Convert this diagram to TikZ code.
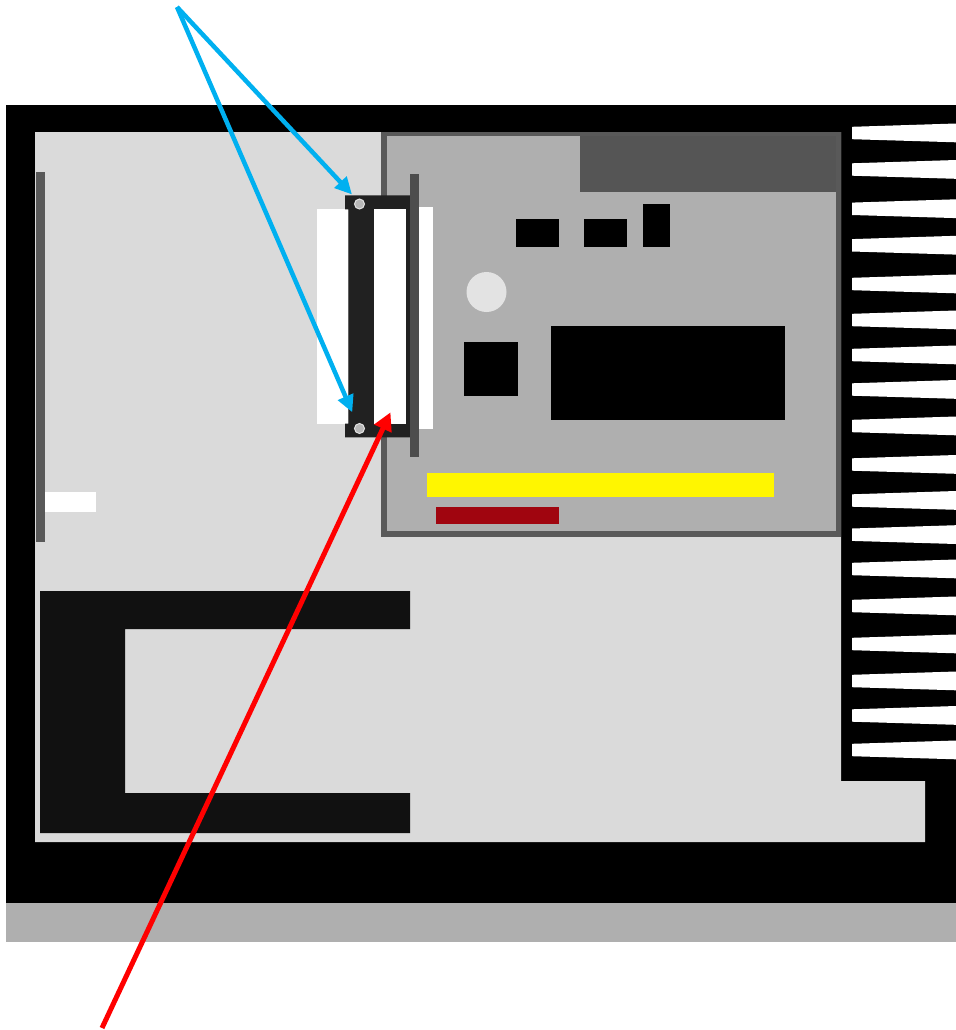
\documentclass[tikz,border=0pt]{standalone}
\usetikzlibrary{arrows.meta}
\definecolor{casegrey}{HTML}{DADADA}
\definecolor{boardgrey}{HTML}{AFAFAF}
\definecolor{edgegrey}{HTML}{595959}
\definecolor{bargrey}{HTML}{4D4D4D}
\definecolor{clampdark}{HTML}{212121}
\definecolor{framedark}{HTML}{111111}
\definecolor{screwgrey}{HTML}{B8B8B8}
\definecolor{discgrey}{HTML}{E3E3E3}
\definecolor{darkred}{HTML}{A0050F}
\definecolor{callblue}{HTML}{00B0F0}
\definecolor{railyellow}{HTML}{FFF600}
\tikzset{
  callblue arrow/.style={draw=callblue,line width=4.5bp,-{Triangle[length=17bp,width=16bp]}},
  callred arrow/.style={draw=red,line width=5bp,-{Triangle[length=18bp,width=18bp]}},
  screw/.style={fill=screwgrey,draw=discgrey,line width=1bp},
}
\begin{document}
\begin{tikzpicture}[x=1bp,y=-1bp]
\useasboundingbox (0,0) rectangle (956,1030);
% enclosure
\fill[black] (6,105) rectangle (956,903);
\fill[boardgrey] (6,903) rectangle (956,941.5);
\fill[casegrey] (35,132) -- (841,132) -- (841,781) -- (925,781) -- (925,842) -- (35,842) -- cycle;
% heat sink fins
\foreach \c in {133,169.5,208.8,245.3,284,320,355,389.5,426,464.5,500.5,534.7,569,606,644,681,715.5,750}{
  \fill[white] (852,\c-6.2) -- (956,\c-9.5) -- (956,\c+9.3) -- (852,\c+6.2) -- cycle;
}
% left parts
\fill[edgegrey] (36,172) rectangle (45,542);
\fill[white] (45,492.4) rectangle (96.3,512.4);
\fill[framedark] (40,591) -- (410,591) -- (410,629) -- (125,629) -- (125,793) -- (410,793) -- (410,833) -- (40,833) -- cycle;
% board
\fill[edgegrey] (380.5,132) rectangle (841,537);
\fill[boardgrey] (386.5,135.5) rectangle (835.5,531);
\fill[edgegrey!95!black] (580,135.5) rectangle (835.5,191.5);
\fill[black] (516,219.3) rectangle (559,246.7);
\fill[black] (584,219.3) rectangle (627,246.7);
\fill[black] (642.7,203.7) rectangle (670,246.7);
\fill[discgrey] (486.5,292) circle (20);
\fill[black] (464,342) rectangle (517.5,396);
\fill[black] (551,326) rectangle (785,420);
\fill[railyellow] (427,472.8) rectangle (773.5,497.3);
\fill[darkred] (436,507.3) rectangle (559,524);
% connector
\fill[white] (316.8,209.3) rectangle (348.3,423.5);
\fill[white] (419,207.3) rectangle (433,429.3);
\fill[clampdark] (345,195.3) -- (410,195.3) -- (410,437.3) -- (345,437.3) -- (345,423.5) -- (348.3,423.5) -- (348.3,209.3) -- (345,209.3) -- cycle;
\fill[white] (374.2,209.3) rectangle (405.7,423.7);
\fill[bargrey] (409.7,174.3) rectangle (419.3,456.7);
\node[screw,circle,minimum size=10bp,inner sep=0pt] (screwtop) at (359.5,204) {};
\node[screw,circle,minimum size=10bp,inner sep=0pt] (screwbot) at (359.5,428.5) {};
% callouts
\coordinate (bluestart) at (177,7);
\coordinate (bluetiptop) at (352,194.5);
\coordinate (bluetipbot) at (352.3,412.3);
\coordinate (redstart) at (102,1028);
\coordinate (redtip) at (390.5,412.3);
\draw[callblue arrow] (bluestart) -- (bluetiptop);
\draw[callblue arrow] (bluestart) -- (bluetipbot);
\draw[callred arrow] (redstart) -- (redtip);
\end{tikzpicture}
\end{document}
